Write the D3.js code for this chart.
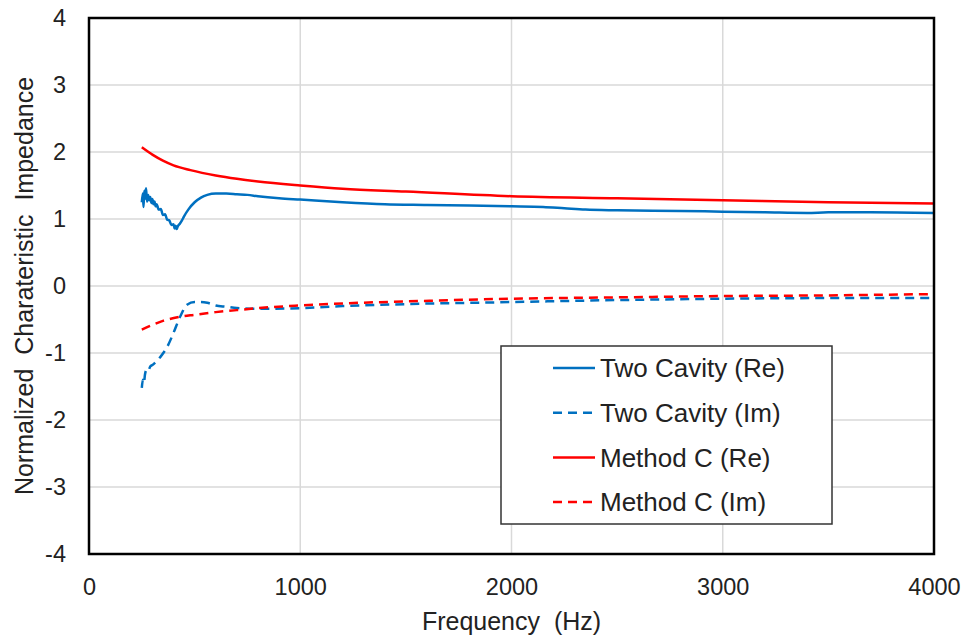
<!DOCTYPE html>
<html><head><meta charset="utf-8">
<script src="https://cdn.jsdelivr.net/npm/d3@7"></script>
<style>
body{margin:0;background:#fff;}
text{font-family:"Liberation Sans",Arial,sans-serif;fill:#222;}
</style></head>
<body><svg id="c" width="969" height="641"></svg>
<script>
const xTicks = [0, 1000, 2000, 3000, 4000];
const yTicks = [-4, -3, -2, -1, 0, 1, 2, 3, 4];

const tcReF = [250,255,258,262,265,270,275,280,285,290,295,300,305,310,315,320,330,340,350,360,370,380,390,400,405,410,415,420,430,440,450,470,500,530,560,600,650,700,750,800,900,1000,1200,1400,1600,1800,2000,2150,2250,2350,2500,2800,3000,3200,3400,3500,3700,4000];
const tcReV = [1.25,1.38,1.18,1.42,1.30,1.46,1.26,1.36,1.28,1.33,1.24,1.30,1.22,1.26,1.19,1.22,1.14,1.15,1.06,1.07,0.99,0.98,0.91,0.92,0.86,0.90,0.85,0.89,0.93,0.98,1.04,1.14,1.25,1.32,1.36,1.38,1.38,1.37,1.36,1.34,1.31,1.29,1.25,1.22,1.21,1.20,1.19,1.18,1.16,1.14,1.13,1.12,1.11,1.10,1.09,1.10,1.10,1.09];

const tcImF = [250,255,260,265,273,280,290,300,320,340,370,400,431,464,500,530,560,600,650,700,800,1000,1200,1500,2000,2500,3000,3500,4000];
const tcImV = [-1.52,-1.40,-1.45,-1.32,-1.25,-1.27,-1.20,-1.18,-1.12,-1.05,-0.91,-0.70,-0.46,-0.28,-0.24,-0.24,-0.25,-0.29,-0.31,-0.33,-0.34,-0.33,-0.30,-0.27,-0.24,-0.21,-0.19,-0.18,-0.18];

const mcReF = [250,300,350,400,480,600,700,800,1000,1200,1500,2000,2500,3000,3500,4000];
const mcReV = [2.07,1.96,1.87,1.80,1.73,1.65,1.60,1.56,1.50,1.45,1.41,1.34,1.31,1.28,1.25,1.23];

const mcImF = [250,300,350,431,500,600,700,800,1000,1200,1500,2000,2500,3000,3500,4000];
const mcImV = [-0.65,-0.58,-0.52,-0.46,-0.43,-0.39,-0.36,-0.33,-0.29,-0.26,-0.23,-0.19,-0.17,-0.15,-0.14,-0.12];

const seriesNames = ["Two Cavity (Re)","Two Cavity (Im)","Method C (Re)","Method C (Im)"];
const seriesColors = ["#0070C0","#0070C0","#FF0000","#FF0000"];
const seriesDash = [null,"9,6",null,"9,6"];

const svg = d3.select("#c");
const L=89, R=934, T=18, B=554;
const x = d3.scaleLinear().domain([0,4000]).range([L,R]);
const y = d3.scaleLinear().domain([-4,4]).range([B,T]);

// grid
svg.append("g").selectAll("line").data(xTicks.slice(1,-1)).join("line")
 .attr("x1",d=>x(d)).attr("x2",d=>x(d)).attr("y1",T).attr("y2",B)
 .attr("stroke","#d9d9d9").attr("stroke-width",1.5);
svg.append("g").selectAll("line").data(yTicks.slice(1,-1)).join("line")
 .attr("y1",d=>y(d)).attr("y2",d=>y(d)).attr("x1",L).attr("x2",R)
 .attr("stroke","#d9d9d9").attr("stroke-width",1.5);

// axes (labels only)
const fmt = d => String(d);
const xa = svg.append("g").attr("transform",`translate(0,${B})`)
 .call(d3.axisBottom(x).tickValues(xTicks).tickFormat(fmt).tickSize(0).tickPadding(24));
const ya = svg.append("g").attr("transform",`translate(${L},0)`)
 .call(d3.axisLeft(y).tickValues(yTicks).tickFormat(fmt).tickSize(0).tickPadding(23));
[xa,ya].forEach(a=>{a.select(".domain").remove();a.selectAll("text").attr("font-size",23.5).attr("font-family","Liberation Sans, Arial, sans-serif").attr("fill","#222");});

// data lines
const data = [
 tcReF.map((f,i)=>[f,tcReV[i]]),
 tcImF.map((f,i)=>[f,tcImV[i]]),
 mcReF.map((f,i)=>[f,mcReV[i]]),
 mcImF.map((f,i)=>[f,mcImV[i]])
];
const line = d3.line().x(d=>x(d[0])).y(d=>y(d[1])).curve(d3.curveMonotoneX);
[1,0,3,2].forEach(i=>{
 svg.append("path").datum(data[i]).attr("d",line).attr("fill","none")
  .attr("stroke",seriesColors[i]).attr("stroke-width",2.5)
  .attr("stroke-dasharray",seriesDash[i]);
});

// frame
svg.append("rect").attr("x",L).attr("y",T).attr("width",R-L).attr("height",B-T)
 .attr("fill","none").attr("stroke","#000").attr("stroke-width",2.5);

// legend
const lg = svg.append("g");
lg.append("rect").attr("x",501).attr("y",346).attr("width",331).attr("height",178)
 .attr("fill","#fff").attr("stroke","#333").attr("stroke-width",1.5);
seriesNames.forEach((n,i)=>{
 const yy = 368 + i*44.7;
 lg.append("line").attr("x1",553).attr("x2",595).attr("y1",yy).attr("y2",yy)
  .attr("stroke",seriesColors[i]).attr("stroke-width",2.5).attr("stroke-dasharray",seriesDash[i]);
 lg.append("text").attr("x",600).attr("y",yy).attr("dy","0.35em").attr("font-size",26).text(n);
});

// titles
svg.append("text").attr("x",(L+R)/2).attr("y",630).attr("text-anchor","middle")
 .attr("font-size",25).style("white-space","pre").text("Frequency  (Hz)");
svg.append("text").attr("transform",`translate(33,${(T+B)/2}) rotate(-90)`).attr("text-anchor","middle")
 .attr("font-size",25).style("white-space","pre").text("Normalized  Charateristic  Impedance");
</script></body></html>
